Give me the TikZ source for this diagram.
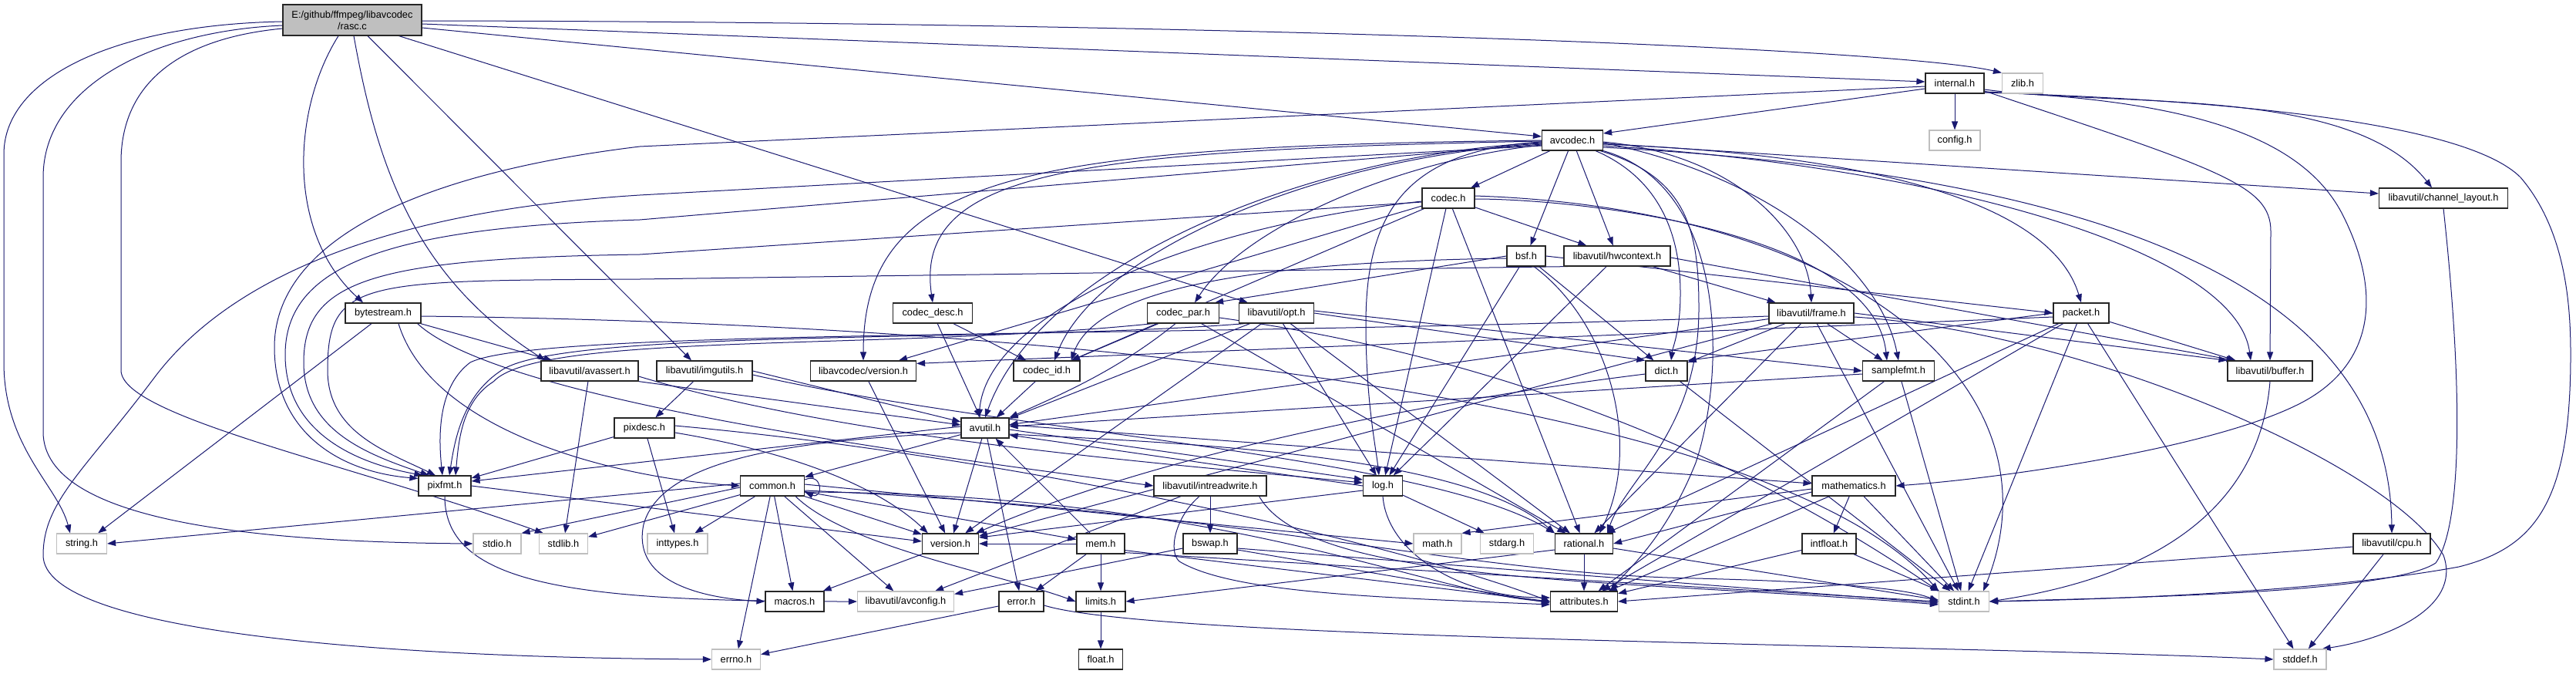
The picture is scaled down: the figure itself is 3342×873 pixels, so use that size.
\documentclass[tikz,border=0pt]{standalone}
\usepackage{fontspec}
\setmainfont{Liberation Sans}
\usetikzlibrary{arrows.meta,calc}
\definecolor{edgeblue}{HTML}{191970}
\definecolor{grayfill}{HTML}{BFBFBF}
\definecolor{grayline}{HTML}{BFBFBF}
\pgfdeclarelayer{edgelayer}
\pgfsetlayers{edgelayer,main}
\tikzset{
  hdr/.style={draw=black!85, line width=1.2pt, fill=white, minimum height=26pt, inner sep=0pt, font=\fontsize{12.8}{15}\selectfont},
  sys/.style={hdr, draw=grayline},
  dep/.style={draw=edgeblue, line width=1pt, -{Triangle[length=11pt,width=8pt]}},
}
\begin{document}
\begin{tikzpicture}[x=1pt,y=-1pt]
\useasboundingbox (0,0) rectangle (3342,873);
% ---------------- nodes
\node[hdr, fill=grayfill, minimum width=180pt, minimum height=40pt, align=center] (rasc) at (457,26) {E:/github/ffmpeg/libavcodec\\/rasc.c};
\node[hdr, minimum width=76pt] (internal) at (2536,108) {internal.h};
\node[sys, minimum width=53pt] (zlib) at (2624,108) {zlib.h};
\node[hdr, minimum width=79pt] (avcodec) at (2040,182) {avcodec.h};
\node[sys, minimum width=66pt] (config) at (2536,182) {config.h};
\node[hdr, minimum width=68pt] (codec) at (1879,257) {codec.h};
\node[hdr, minimum width=167pt] (chlayout) at (3170,257) {libavutil/channel\_layout.h};
\node[hdr, minimum width=50pt] (bsf) at (1980,332) {bsf.h};
\node[hdr, minimum width=138pt] (hwctx) at (2098,332) {libavutil/hwcontext.h};
\node[hdr, minimum width=98pt] (bytestream) at (497,406) {bytestream.h};
\node[hdr, minimum width=103pt] (codecdesc) at (1210,406) {codec\_desc.h};
\node[hdr, minimum width=93pt] (codecpar) at (1535,406) {codec\_par.h};
\node[hdr, minimum width=97pt] (opt) at (1656,406) {libavutil/opt.h};
\node[hdr, minimum width=110pt] (frame) at (2350,406) {libavutil/frame.h};
\node[hdr, minimum width=72pt] (packet) at (2700,406) {packet.h};
\node[hdr, minimum width=126pt] (avassert) at (765,481) {libavutil/avassert.h};
\node[hdr, minimum width=124pt] (imgutils) at (914,481) {libavutil/imgutils.h};
\node[hdr, minimum width=137pt] (lavcversion) at (1120,481) {libavcodec/version.h};
\node[hdr, minimum width=86pt] (codecid) at (1358,481) {codec\_id.h};
\node[hdr, minimum width=54pt] (dict) at (2162,481) {dict.h};
\node[hdr, minimum width=93pt] (samplefmt) at (2463,481) {samplefmt.h};
\node[hdr, minimum width=110pt] (buffer) at (2945,481) {libavutil/buffer.h};
\node[hdr, minimum width=78pt] (pixdesc) at (836,555) {pixdesc.h};
\node[hdr, minimum width=62pt] (avutil) at (1278,555) {avutil.h};
\node[hdr, minimum width=68pt] (pixfmt) at (577,630) {pixfmt.h};
\node[hdr, minimum width=83pt] (common) at (1002,630) {common.h};
\node[hdr, minimum width=146pt] (intrw) at (1570,630) {libavutil/intreadwrite.h};
\node[hdr, minimum width=51pt] (log) at (1794,630) {log.h};
\node[hdr, minimum width=108pt] (mathematics) at (2405,630) {mathematics.h};
\node[sys, minimum width=65pt] (string) at (106,705) {string.h};
\node[sys, minimum width=62pt] (stdio) at (645,705) {stdio.h};
\node[sys, minimum width=63pt] (stdlib) at (731,705) {stdlib.h};
\node[sys, minimum width=78pt] (inttypes) at (879,705) {inttypes.h};
\node[hdr, minimum width=73pt] (version) at (1233,705) {version.h};
\node[hdr, minimum width=62pt] (mem) at (1428,705) {mem.h};
\node[hdr, minimum width=70pt] (bswap) at (1570,705) {bswap.h};
\node[sys, minimum width=62pt] (math) at (1865,705) {math.h};
\node[sys, minimum width=69pt] (stdarg) at (1955,705) {stdarg.h};
\node[hdr, minimum width=75pt] (rational) at (2055,705) {rational.h};
\node[hdr, minimum width=70pt] (intfloat) at (2373,705) {intfloat.h};
\node[hdr, minimum width=100pt] (cpu) at (3103,705) {libavutil/cpu.h};
\node[hdr, minimum width=76pt] (macros) at (1031,780) {macros.h};
\node[sys, minimum width=125pt] (avconfig) at (1175,780) {libavutil/avconfig.h};
\node[hdr, minimum width=58pt] (error) at (1325,780) {error.h};
\node[hdr, minimum width=64pt] (limits) at (1428,780) {limits.h};
\node[hdr, minimum width=87pt] (attributes) at (2055,780) {attributes.h};
\node[sys, minimum width=65pt] (stdint) at (2548,780) {stdint.h};
\node[sys, minimum width=63pt] (errno) at (955,855) {errno.h};
\node[hdr, minimum width=57pt] (float) at (1428,855) {float.h};
\node[sys, minimum width=68pt] (stddef) at (2984,855) {stddef.h};
% ---------------- edges
\begin{pgfonlayer}{edgelayer}
\fill[white] (0,0) rectangle (3342,873);
% rasc.c
\draw[dep] ($(rasc.west)+(0,2)$) .. controls (150,32) and (5,100) .. (5,200) -- (5,470) .. controls (5,580) and (75,630) .. ($(string.north)+(-15,0)$);
\draw[dep] ($(rasc.west)+(0,7)$) .. controls (200,40) and (56,110) .. (56,230) -- (56,560) .. controls (56,680) and (350,703) .. (stdio.west);
\draw[dep] ($(rasc.west)+(0,11)$) .. controls (230,50) and (157,110) .. (157,210) -- (157,480) .. controls (157,540) and (450,600) .. ($(stdlib.north west)+(6,0)$);
\draw[dep] ($(rasc.south)+(-18,0)$) .. controls (380,140) and (370,300) .. ($(bytestream.north)+(-26,0)$);
\draw[dep] ($(rasc.south)+(2,0)$) .. controls (490,220) and (540,360) .. ($(avassert.north west)+(6,0)$);
\draw[dep] ($(rasc.south)+(20,0)$) -- ($(imgutils.north)+(-17,0)$);
\draw[dep] ($(rasc.south east)+(-30,0)$) -- ($(opt.north west)+(12,0)$);
\draw[dep] ($(rasc.east)+(0,1)$) .. controls (1500,28) and (2450,60) .. (zlib.north west);
\draw[dep] ($(rasc.east)+(0,5)$) -- ($(internal.west)+(0,-2)$);
\draw[dep] ($(rasc.east)+(0,10)$) -- ($(avcodec.west)+(0,-5)$);
% internal.h
\draw[dep] (internal) -- (config);
\draw[dep] ($(internal.west)+(0,7)$) -- ($(avcodec.east)+(0,-9)$);
\draw[dep] ($(internal.west)+(0,4)$) -- (830,190) .. controls (500,230) and (356,330) .. (356,450) .. controls (356,560) and (440,612) .. ($(pixfmt.north west)+(0,4)$);
\draw[dep] ($(internal.east)+(0,8)$) .. controls (2750,140) and (3050,110) .. ($(chlayout.north)+(-15,0)$);
\draw[dep] ($(internal.east)+(0,10)$) .. controls (2880,220) and (2946,240) .. (2946,300) -- (buffer.north);
\draw[dep] ($(internal.east)+(0,11)$) .. controls (2850,130) and (2990,180) .. (3040,280) .. controls (3090,380) and (3080,470) .. (2990,520) .. controls (2880,580) and (2600,620) .. (mathematics.east);
\draw[dep] ($(internal.east)+(0,12)$) .. controls (2900,130) and (3200,160) .. (3270,230) .. controls (3330,300) and (3335,400) .. (3335,460) .. controls (3335,650) and (3290,710) .. (3190,735) .. controls (3000,770) and (2700,778) .. (stdint.east);
% avcodec.h
\draw[dep] (avcodec) -- (codec);
\draw[dep] (avcodec) -- (bsf);
\draw[dep] (avcodec) -- (hwctx);
\draw[dep] ($(avcodec.east)+(0,4)$) -- ($(chlayout.west)+(0,-6)$);
\draw[dep] ($(avcodec.east)+(0,2)$) .. controls (2250,200) and (2345,300) .. (frame.north);
\draw[dep] ($(avcodec.east)+(0,5)$) .. controls (2420,200) and (2660,260) .. (packet.north);
\draw[dep] ($(avcodec.east)+(0,7)$) .. controls (2500,215) and (2900,320) .. ($(buffer.north)+(-25,0)$);
\draw[dep] ($(avcodec.east)+(0,9)$) .. controls (2800,230) and (3100,400) .. (cpu.north);
\draw[dep] ($(avcodec.east)+(0,3)$) .. controls (2300,230) and (2440,350) .. (samplefmt.north);
\draw[dep] ($(avcodec.south east)+(-10,0)$) .. controls (2150,230) and (2180,300) .. (2180,380) .. controls (2180,430) and (2170,450) .. ($(dict.north)+(6,0)$);
\draw[dep] ($(avcodec.south east)+(-4,0)$) .. controls (2190,230) and (2204,300) .. (2204,400) .. controls (2204,560) and (2110,620) .. ($(rational.north east)+(-8,0)$);
\draw[dep] (avcodec.south east) .. controls (2240,240) and (2240,480) .. (2200,600) .. controls (2160,700) and (2110,740) .. ($(attributes.north east)+(-10,0)$);
\draw[dep] ($(avcodec.west)+(0,2)$) .. controls (1820,195) and (1772,280) .. (1772,420) .. controls (1772,520) and (1785,580) .. ($(log.north)+(-5,0)$);
\draw[dep] ($(avcodec.west)+(0,3)$) .. controls (1700,200) and (1350,340) .. (avutil.north);
\draw[dep] ($(avcodec.west)+(0,4)$) .. controls (1700,205) and (1420,330) .. ($(codecid.north)+(10,0)$);
\draw[dep] ($(avcodec.west)+(0,6)$) .. controls (1800,210) and (1610,300) .. ($(codecpar.north)+(15,0)$);
\draw[dep] ($(avcodec.west)+(0,1)$) .. controls (1400,195) and (1185,220) .. (codecdesc.north);
\draw[dep] (avcodec.west) .. controls (1330,190) and (1120,225) .. (lavcversion.north);
\draw[dep] ($(avcodec.west)+(0,5)$) -- (830,285) .. controls (500,295) and (370,345) .. (370,460) .. controls (370,560) and (460,600) .. ($(pixfmt.north west)+(6,0)$);
\draw[dep] ($(avcodec.west)+(0,7)$) -- (830,253) .. controls (480,275) and (290,370) .. (200,490) .. controls (110,610) and (56,650) .. (56,720) .. controls (56,820) and (500,853) .. (errno.west);
% codec.h
\draw[dep] (codec) -- (hwctx);
\draw[dep] (codec) -- (log);
\draw[dep] (codec) -- (rational);
\draw[dep] ($(codec.east)+(0,1)$) .. controls (2050,258) and (2430,300) .. ($(samplefmt.north)+(-15,0)$);
\draw[dep] ($(codec.east)+(0,-3)$) .. controls (2400,270) and (2680,500) .. ($(stdint.north east)+(-8,0)$);
\draw[dep] ($(codec.west)+(0,4)$) .. controls (1500,300) and (1280,420) .. ($(avutil.north)+(-8,0)$);
\draw[dep] (codec) -- (codecid);
\draw[dep] (codec) -- (lavcversion);
\draw[dep] ($(codec.west)+(0,5)$) -- (830,330) .. controls (480,335) and (394,365) .. (394,470) .. controls (394,560) and (480,590) .. ($(pixfmt.north west)+(14,0)$);
% bsf.h
\draw[dep] (bsf) -- (dict);
\draw[dep] (bsf) -- (log);
\draw[dep] ($(bsf.south)+(10,0)$) .. controls (2090,420) and (2130,580) .. ($(rational.north east)+(-18,0)$);
\draw[dep] ($(bsf.west)+(0,3)$) .. controls (1600,340) and (1420,380) .. ($(codecid.north east)+(-12,0)$);
\draw[dep] (bsf.west) -- ($(codecpar.north east)+(-6,0)$);
\draw[dep] (bsf.east) -- (packet.west);
% hwcontext.h
\draw[dep] ($(hwctx.east)+(0,2)$) -- ($(buffer.north west)+(10,0)$);
\draw[dep] (hwctx) -- (frame);
\draw[dep] (hwctx) -- (log);
\draw[dep] ($(hwctx.south west)+(6,0)$) -- (830,362) .. controls (470,364) and (425,362) .. (425,480) .. controls (425,560) and (500,585) .. ($(pixfmt.north)+(-12,0)$);
% bytestream.h
\draw[dep] ($(bytestream.south)+(-15,0)$) -- ($(string.north east)+(-12,0)$);
\draw[dep] (bytestream) -- (avassert);
\draw[dep] ($(bytestream.south)+(20,0)$) .. controls (560,560) and (800,620) .. (common.west);
\draw[dep] ($(bytestream.south east)+(-5,0)$) .. controls (650,520) and (1200,590) .. (intrw.west);
\draw[dep] ($(bytestream.east)+(0,4)$) .. controls (1400,420) and (2300,520) .. (stdint.north west);
% codec_desc.h
\draw[dep] (codecdesc) -- (avutil);
\draw[dep] (codecdesc) -- (codecid);
% codec_par.h
\draw[dep] (codecpar) -- (codecid);
\draw[dep] ($(codecpar.south)+(-10,0)$) .. controls (1450,480) and (1380,510) .. (avutil.north east);
\draw[dep] (codecpar) -- (rational);
\draw[dep] ($(codecpar.south west)+(8,0)$) .. controls (1150,455) and (700,430) .. (640,495) .. controls (600,520) and (595,570) .. ($(pixfmt.north)+(14,0)$);
\draw[dep] ($(codecpar.east)+(0,6)$) .. controls (2000,470) and (2300,620) .. (stdint.north west);
% opt.h
\draw[dep] (opt) -- (rational);
\draw[dep] (opt) -- (avutil);
\draw[dep] (opt.east) -- (dict.north west);
\draw[dep] (opt) -- (log);
\draw[dep] ($(opt.east)+(0,-3)$) -- (samplefmt.west);
\draw[dep] (opt) -- (version);
\draw[dep] ($(opt.south west)+(8,0)$) .. controls (1300,445) and (720,425) .. (648,482) .. controls (600,515) and (590,570) .. ($(pixfmt.north)+(6,0)$);
% frame.h
\draw[dep] ($(frame.east)+(0,5)$) .. controls (2700,430) and (3100,600) .. (3170,720) .. controls (3195,790) and (3090,830) .. ($(stddef.north east)+(-6,0)$);
\draw[dep] (frame) -- (stdint);
\draw[dep] (frame) -- (avutil);
\draw[dep] (frame.east) -- (buffer.north west);
\draw[dep] (frame) -- (dict);
\draw[dep] (frame) -- (rational);
\draw[dep] (frame) -- (samplefmt);
\draw[dep] (frame) -- (version);
\draw[dep] ($(frame.west)+(0,4)$) .. controls (1500,440) and (700,425) .. (610,470) .. controls (570,500) and (568,560) .. ($(pixfmt.north)+(-3,0)$);
% packet.h
\draw[dep] (packet) -- (stddef);
\draw[dep] (packet) -- (stdint);
\draw[dep] (packet) -- (attributes);
\draw[dep] (packet) -- (buffer);
\draw[dep] (packet.west) -- (dict.north east);
\draw[dep] (packet) -- (rational);
\draw[dep] ($(packet.west)+(0,5)$) -- ($(lavcversion.north east)+(0,4)$);
% channel_layout.h
\draw[dep] (chlayout.south) .. controls (3195,500) and (3195,680) .. (3160,730) .. controls (3100,770) and (2750,775) .. (stdint.east);
% avassert.h
\draw[dep] (avassert) -- (stdlib);
\draw[dep] (avassert.south east) -- ($(avutil.west)+(0,-4)$);
\draw[dep] ($(avassert.east)+(0,7)$) .. controls (1100,570) and (1500,600) .. ($(log.west)+(0,-4)$);
% imgutils.h
\draw[dep] (imgutils.east) -- ($(avutil.west)+(0,-8)$);
\draw[dep] (imgutils) -- (pixdesc);
\draw[dep] ($(imgutils.east)+(0,5)$) .. controls (1300,560) and (1850,590) .. (rational.north west);
% single includes
\draw[dep] (lavcversion) -- (version);
\draw[dep] (codecid) -- (avutil);
% dict.h
\draw[dep] (dict) -- (stdint);
\draw[dep] ($(dict.west)+(0,4)$) .. controls (1850,520) and (1500,590) .. ($(version.north east)+(-4,0)$);
% samplefmt.h
\draw[dep] (samplefmt) -- (stdint);
\draw[dep] ($(samplefmt.west)+(0,4)$) -- ($(avutil.east)+(0,-2)$);
\draw[dep] (samplefmt) -- (attributes);
% buffer.h
\draw[dep] (buffer.south) .. controls (2935,620) and (2850,740) .. (stdint.east);
% pixdesc.h
\draw[dep] (pixdesc) -- (inttypes);
\draw[dep] ($(pixdesc.east)+(0,-3)$) .. controls (1300,590) and (1800,700) .. (attributes.west);
\draw[dep] (pixdesc) -- (pixfmt);
\draw[dep] ($(pixdesc.east)+(0,6)$) .. controls (1050,590) and (1150,640) .. ($(version.north west)+(8,0)$);
% avutil.h
\draw[dep] (avutil) -- (common);
\draw[dep] (avutil) -- (error);
\draw[dep] ($(avutil.east)+(0,8)$) .. controls (1550,575) and (1900,590) .. (rational.north west);
\draw[dep] (avutil) -- (version);
\draw[dep] ($(avutil.west)+(0,6)$) .. controls (1050,570) and (860,590) .. (835,680) .. controls (820,750) and (900,775) .. (macros.west);
\draw[dep] ($(avutil.east)+(0,-4)$) -- ($(mathematics.west)+(0,-3)$);
\draw[dep] ($(avutil.east)+(0,2)$) -- ($(log.west)+(0,-8)$);
\draw[dep] ($(avutil.west)+(0,-2)$) -- ($(pixfmt.east)+(0,-6)$);
% pixfmt.h
\draw[dep] (pixfmt.south) .. controls (577,760) and (750,780) .. (avconfig.west);
\draw[dep] (pixfmt.east) -- ($(version.west)+(0,-3)$);
% common.h
\draw[dep] (common) -- (errno);
\draw[dep] (common) -- (inttypes);
\draw[dep] ($(common.south east)+(-12,0)$) .. controls (1100,710) and (1300,745) .. (limits.west);
\draw[dep] ($(common.east)+(0,-2)$) -- (math.west);
\draw[dep] ($(common.east)+(0,6)$) .. controls (1600,660) and (1900,745) .. (2200,750) .. controls (2400,755) and (2480,765) .. (stdint.west);
\draw[dep] ($(common.west)+(0,2)$) -- (stdio.north east);
\draw[dep] (common) -- (stdlib);
\draw[dep] ($(common.west)+(0,-3)$) -- (string.east);
\draw[dep] ($(common.east)+(0,8)$) .. controls (1600,640) and (1850,770) .. (attributes.west);
\draw[dep] (common) -- (macros);
\draw[dep] (common) -- (version);
\draw[dep] (common) -- (avconfig);
\draw[dep] (common) -- (mem);
\draw[dep] ($(common.east)+(0,-8)$) .. controls (1068,612) and (1068,648) .. ($(common.east)+(0,8)$);
% mem.h
\draw[dep] (mem) -- (limits);
\draw[dep] ($(mem.south east)+(0,-2)$) -- (stdint.west);
\draw[dep] ($(mem.south east)+(0,-5)$) -- (attributes.west);
\draw[dep] (mem) -- (error);
\draw[dep] (mem) -- (avutil);
\draw[dep] (mem.west) -- (version.east);
% log.h
\draw[dep] (log) -- (stdarg);
\draw[dep] (log.west) -- ($(avutil.east)+(0,9)$);
\draw[dep] (log.south) .. controls (1800,720) and (1900,775) .. ($(attributes.west)+(0,-5)$);
\draw[dep] ($(log.west)+(0,6)$) -- ($(version.east)+(0,-8)$);
% mathematics.h
\draw[dep] (mathematics) -- (stdint);
\draw[dep] ($(mathematics.west)+(0,4)$) -- (math.north east);
\draw[dep] (mathematics) -- (attributes);
\draw[dep] ($(mathematics.west)+(0,8)$) -- (rational.east);
\draw[dep] (mathematics) -- (intfloat);
% intreadwrite.h
\draw[dep] ($(intrw.south east)+(-10,0)$) .. controls (1700,760) and (2100,750) .. ($(stdint.west)+(0,4)$);
\draw[dep] ($(intrw.south)+(-38,0)$) -- ($(avconfig.north east)+(-25,0)$);
\draw[dep] ($(intrw.south)+(-14,0)$) .. controls (1525,670) and (1515,715) .. (1530,728) .. controls (1600,770) and (1800,775) .. ($(attributes.west)+(0,4)$);
\draw[dep] (intrw) -- (bswap);
% bswap.h
\draw[dep] ($(bswap.east)+(0,6)$) -- ($(stdint.west)+(0,2)$);
\draw[dep] ($(bswap.east)+(0,8)$) -- ($(attributes.west)+(0,2)$);
\draw[dep] ($(bswap.west)+(0,6)$) -- ($(avconfig.north east)+(0,4)$);
% rational.h
\draw[dep] (rational) -- (attributes);
\draw[dep] ($(rational.east)+(0,6)$) -- ($(stdint.west)+(0,-2)$);
\draw[dep] ($(rational.west)+(0,8)$) -- (limits.east);
% intfloat.h
\draw[dep] (intfloat) -- (stdint);
\draw[dep] (intfloat) -- (attributes);
% cpu.h
\draw[dep] (cpu) -- (stddef);
\draw[dep] ($(cpu.west)+(0,4)$) -- (attributes.east);
% version.h, error.h, limits.h
\draw[dep] (version) -- (macros);
\draw[dep] (error) -- (errno);
\draw[dep] ($(error.east)+(0,5)$) .. controls (1500,830) and (2500,835) .. (stddef.west);
\draw[dep] (limits) -- (float);
\end{pgfonlayer}
\end{tikzpicture}
\end{document}
